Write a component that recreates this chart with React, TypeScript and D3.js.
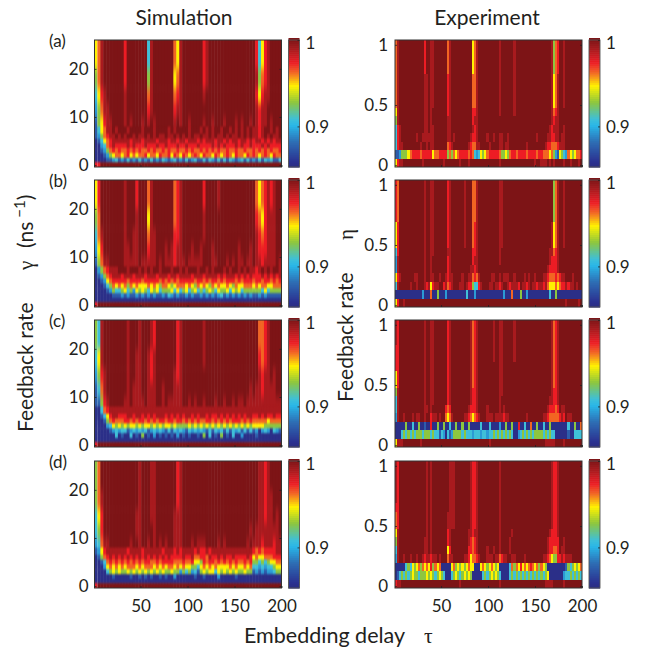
import React, { useRef, useEffect } from "react";
import * as d3 from "d3";

const levelValues = [0.855, 0.875, 0.893, 0.908, 0.927, 0.946, 0.9615, 0.973, 0.9885, 1];
const colorStops = [0.853, 0.858, 0.881, 0.9, 0.908, 0.927, 0.946, 0.9615, 0.973, 0.9885, 1];
const colorRange = ["#2b2e83", "#2b3090", "#2e6db4", "#29b6e8", "#3fc0d8", "#8dc63f", "#fff200", "#f26522", "#ed1c24", "#a81a1e", "#7d1416"];

const tauTicks = [50, 100, 150, 200];
const gammaTicks = [0, 10, 20];
const etaTicks = [0, 0.5, 1];
const barTicks = [0.9, 1];
const panelTags = ["(a)", "(b)", "(c)", "(d)"];

// row edges of the simulation grids, top to bottom, in ns^-1
const gammaEdges = [26, 20, 16, 13, 10, 8, 6.5, 5.5, 4.5, 3.5, 2.5, 1.5, 0.6, -0.4];

const simA = [
  "5689999999 7999999938 9999999658 9999999789 9999999999 9999973578 9999",
  "4689999999 7999999948 9999999568 9999999789 9999999999 9999984678 9999",
  "3578999999 8999999968 9999999678 9999999899 9999999999 9999975788 9999",
  "2468899999 8999999978 9999999788 9999999999 9999999999 9999987889 9999",
  "1457889999 8989998989 8999999898 9989999899 8999899989 8998987889 8999",
  "1356889899 9899998999 8999989899 9989998989 8998998989 8989887899 8989",
  "1246788989 8998988989 8988988989 8989889889 8988989889 8989887898 9889",
  "0135678888 8878887888 8788878878 8788878788 8788787887 8878788787 8788",
  "0023678777 7878777877 7877877787 7877787777 8787877787 8778777878 7777",
  "0012467676 6767676676 7667676676 6767667676 7676676676 6766767676 7667",
  "0001245665 6756566756 6576675765 7656765766 5765676576 6576765676 5766",
  "0000112312 1312131213 1213212312 1312311313 2131313212 3131213132 3113",
  "7799999999 9999999999 9999999999 9999999999 9999999999 9999999999 9999",
];
const simB = [
  "5799999999 8999799968 9999999678 9999999799 9989999999 9999965678 7899",
  "4699999999 8999899958 9999999678 9999999899 9999999999 9999976578 8899",
  "3689999999 8998899968 8999999778 9999999899 9999999999 9999987678 8899",
  "2579999999 8898899978 8999898788 9998998999 8999999998 9998987778 8899",
  "1468899999 8888898888 8989888788 8988888999 8899989898 8988988788 8898",
  "0246788899 9899989898 9989998998 9899989989 8999898998 9898878989 8998",
  "0124678887 8887888788 8788878878 8887888788 8878788878 7878777878 7878",
  "0012567777 7677776777 7767676767 7777677676 7767677767 6777677677 6767",
  "0001346565 6465655565 6546654566 6565465654 6565565465 5666565665 5666",
  "0000124334 5342545435 4534445353 4534534345 4354453545 3444444353 4444",
  "0000001112 1211212121 2112132121 1212112121 2123121212 1212112121 1111",
  "0000000000 0000000000 0000000000 0000000000 0000000000 0000000000 0000",
  "7999999999 9999999999 9999999999 9999999999 9999999999 9999999999 9999",
];
const simC = [
  "4389999999 9899989998 7999999978 9999999899 9999999999 9999996678 9999",
  "3589999999 9899889987 8999999978 9999999899 9999999999 9999997678 9999",
  "2478999999 9899889987 8999999878 9999999999 9999999999 9999998788 9899",
  "1368999999 9898889988 8998999888 9999999999 9999999999 9998988788 8899",
  "1147899999 8898888988 8998988888 9989899899 9899899898 8988888888 8888",
  "0036788888 8888888888 8888888888 8888888888 8888888888 8888888888 8888",
  "0013578877 7887887878 7888787878 7887878878 7787878787 8788778787 7877",
  "0001467666 7767677676 7677677677 6767676677 6767676777 6767666665 6666",
  "0000235454 5455454554 5454554544 4454545454 5454545454 5454555544 4444",
  "0000012323 3123232312 3232131323 2132323213 1323131323 1313120232 0321",
  "0000000301 0030104010 2010101020 1010010403 0104010300 2000010000 0000",
  "0000000000 0000000000 0000000000 0000000000 0000000000 0000000000 0000",
  "7999999999 9999999999 9999999999 9999999999 9999999999 9999999999 9999",
];
const simD = [
  "4699999999 9999989998 8999999978 9999999999 9999999999 9999998878 9999",
  "4689999999 9999989998 8999999978 9999999999 9999999999 9999998878 8999",
  "3579999999 9999889998 8999999888 9999999999 9999999999 9999998878 8989",
  "3479999999 9999889999 8999999888 9999999999 9999999999 9998988888 8889",
  "2368899999 9989989989 8989899888 9998988899 9989899999 9989888788 8788",
  "1257888888 8788887888 8887888787 8888787787 8888888888 8888767677 7788",
  "0146787878 7878787878 7878787777 8778667768 7787877877 7787565566 6777",
  "0013676767 6767676776 6767777666 7667554767 7676767676 6767443434 5566",
  "0002565656 5666565666 5656566565 6554435656 5655556565 5656332323 3455",
  "0000345454 4545454545 4545445442 4342314545 5354545454 4544121212 2344",
  "0000001000 0010010101 0010100200 0000100100 0020000010 0000000000 0000",
  "0000000000 0000000000 0000000000 0000000000 0000000000 0000000000 0000",
  "7999999999 9999999999 9999999999 9999999999 9999999999 9999999999 9999",
];

// experiment grids: 15 equal rows, top to bottom
const expA = [
  "6899999999 9999799889 9999968999 9999999568 9999999999 8999999899 9999999999 9999984679 9899999999",
  "6899999999 9999799889 9999968999 9999999568 9999999999 8999999899 9999999999 9999984679 9899999999",
  "6899999999 9999799889 9999968999 9999999568 9999999999 8999999899 9999999999 9999984679 9899999999",
  "6899999999 9999799889 9999968999 9999999568 9999999999 8999999899 9999999999 9999984679 9899999999",
  "6899999999 9999889889 9999978999 9999999668 9999999999 8999999899 9999999999 9999985689 9899999999",
  "6899999999 9999889889 9999978999 9999999668 9999999999 8999999899 9999999999 9999985689 9899999999",
  "6899999999 9999889889 9999978999 9999999668 9999999999 8999999899 9999999999 9999985689 9899999999",
  "6899999999 9999889889 9999978999 9999999668 9999999999 8999999899 9999999999 9999985689 9899999999",
  "5899999999 9999889899 9999978999 9999999778 9999999999 8999999899 9999999999 9999986789 9999999999",
  "4899999999 9999889899 9999988999 9999999788 9999999999 9999999999 9999999999 9999987889 9999999999",
  "3789999999 9999889889 9999988999 9999999878 9999999999 9999999999 9999999999 9999878889 9899999999",
  "3789999999 8998888889 9999988989 9999998778 9999899899 8899899999 9999999989 9998877889 8899999999",
  "3788999999 9989989889 9999967899 9999987668 8999989999 8898899999 9998999999 9987766678 8899999999",
  "1124445677 7767777756 6777746465 6777767632 3545677777 6445467767 7776777767 7666564215 4326545667",
  "5788999999 9998999999 9998999999 9899989999 9999999999 8999999999 9999999899 8889898999 9899899989",
];
const expB = [
  "7699999999 9999899889 9999978999 9998999668 9999999999 8899999999 9999999999 9999994689 9899999999",
  "7699999999 9999899889 9999978999 9998999668 9999999999 8899999999 9999999999 9999994689 9899999999",
  "7699999999 9999899889 9999978999 9998999668 9999999999 8899999999 9999999999 9999994689 9899999999",
  "7699999999 9999899889 9999978999 9998999668 9999999999 8899999999 9999999999 9999994689 9899999999",
  "7699999999 9999899889 9999978999 9998999668 9999999999 8899999999 9999999999 9999994689 9899999999",
  "5799999999 9999899889 9999978999 9998999678 9999999999 8899999999 9999999999 9999985689 9899999999",
  "5799999999 9999899889 9999978999 9998999678 9999999999 8899999999 9999999999 9999985689 9899999999",
  "5799999999 9999899889 9999978999 9998999678 9999999999 8899999999 9999999999 9999985689 9899999999",
  "3799999999 9999899889 9999988999 9999999778 9999999999 8999999999 9999999999 9999886789 9999999999",
  "2899999999 9999899899 9999978999 9999999788 9999999999 8999999999 9999999999 9999877789 9999999999",
  "2899999999 9999899899 9999978999 9999998878 9999999999 9999999999 9999999999 9998777789 9999999999",
  "5789999998 8999899889 9899878899 9989988676 8999998899 8988899899 9989899899 9887666767 8899989999",
  "3899999899 8999878578 8997867899 9889877433 7899988988 7899878887 9887898878 8786555656 7787889899",
  "0000000000 0002000600 4000200000 0000300020 0000000000 0020006000 4002000000 0000300400 0000000000",
  "5799899999 9999999999 9999999999 9999999999 9999999999 9999999999 9999999999 9999999999 9989999989",
];
const expC = [
  "8799999999 9999899889 9999978999 9999998678 9999999899 8899999899 9999999999 9999986789 9999999999",
  "8799999999 9999899889 9999978999 9999998678 9999999899 8899999899 9999999999 9999986789 9999999999",
  "8799999999 9999899889 9999978999 9999998678 9999999899 8899999899 9999999999 9999986789 9999999999",
  "7799999999 9999899889 9999978999 9999998678 9999999899 8899999899 9999999999 9999986789 9999999999",
  "7799999999 9999899889 9999978999 9999998678 9999999899 8899999899 9999999999 9999986789 9999999999",
  "7799999999 9999899889 9999978999 9999998678 9999999999 8899999999 9999999999 9999986789 9999999999",
  "5799999999 9999899889 9999978999 9999998678 9999999999 8899999999 9999999999 9999986789 9999999999",
  "5799999999 9999899889 9999978999 9999998678 9999999999 8899999999 9999999999 9999986789 9999999999",
  "4899999999 9999899889 9999978999 9999998778 9999999999 8899999999 9999999999 9999987789 9999999999",
  "3899999999 9999899889 9999978999 9999998778 9999999999 8999999999 9999999999 9999887789 9999999999",
  "3899999999 9999889899 9999767999 9999987778 9999899999 8989999999 9999999999 9998777679 8899999999",
  "2899899989 8899899788 9899656899 9998876567 8999888988 8878899999 9998999999 9887666667 8798899999",
  "0000040030 0400100700 4004003004 0040040000 0300030000 2004004007 0030060040 0300400000 0003004006",
  "0003434343 4443444343 3132031244 4434333233 3233233434 3434343002 3434343444 4343433000 0001003333",
  "5888999999 9989999999 9999999999 9999999999 9999989999 9999999999 9999999999 9988888999 9899999999",
];
const expD = [
  "8799999999 9999989899 9999998889 9999998778 9999999999 8999999999 9999999999 9999987789 9999999999",
  "8799999999 9999989899 9999998889 9999998778 9999999999 8999999999 9999999999 9999987789 9999999999",
  "8799999999 9999989899 9999998889 9999998778 9999999999 8999999999 9999999999 9999987789 9999999999",
  "8799999999 9999989899 9999998889 9999998778 9999999999 8999999999 9999999999 9999987789 9999999999",
  "8799999999 9999989899 9999998889 9999998778 9999999999 8999999999 9999999999 9999987789 9999999999",
  "7799999999 9999989899 9999998889 9999998778 9999999999 8999999999 9999999999 9999987789 9999999999",
  "6799999999 9999989899 9999988889 9999998778 9999999999 8999999999 9999999999 9999987789 9999999999",
  "6799999999 9999989899 9999988889 9999998778 9999999999 8999999999 9999999999 9999987789 9999999999",
  "5899999999 9999989899 9999978999 9999988788 9999999999 8999998999 9999999999 9999877789 9999999999",
  "4899999999 9999889899 9999978999 9999987678 9999999999 8999989999 9999999999 9998777779 9899999999",
  "3899999999 9999889899 9999957999 9999977678 9999899899 8999989999 9999999999 9998776679 8899999999",
  "2899899899 8998788788 9899968899 9998875667 8999888988 6788998899 9989999999 9887654477 8788899999",
  "0000034354 5646565746 5600000564 5454565500 0565456545 0000036465 7565676564 6540000000 0014345456",
  "0134343454 4344454543 4543000345 4345454000 0034345454 3000034343 4343434343 4345000000 0233434343",
  "7889999999 9999999999 9999999999 9899999999 9999999999 8999999999 9999999999 9988889999 9899999999",
];

const simGrids = [simA, simB, simC, simD];
const expGrids = [expA, expB, expC, expD];

const panelTops = [40, 180, 320, 461];
const panelH = 127;
const panelW = 187;
const leftX = 94.5;
const rightX = 395;
const barGap = 7;
const barW = 11;
const upperRows = 5; // rows above this are smeared harder, they change slowly
const fontFamily = "Lato, 'Open Sans', sans-serif";
const greekFont = "'Liberation Serif', serif";

const App = () => {
  const svgRef = useRef<SVGSVGElement>(null);

  useEffect(() => {
    const svg = d3.select(svgRef.current);
    svg.selectAll("*").remove();

    const color = d3.scaleLinear<string>().domain(colorStops).range(colorRange).clamp(true);
    const tauScale = d3.scaleLinear().domain([1, 200]).range([0, panelW]);
    const gammaScale = d3.scaleLinear().domain([-0.4, 26]).range([panelH, 0]);
    const etaScale = d3.scaleLinear().domain([-0.015, 1.04]).range([panelH, 0]);
    const barScale = d3.scaleLinear().domain([0.853, 1]).range([panelH, 0]);

    const defs = svg.append("defs");
    const smearFine = defs.append("filter").attr("id", "smearFine")
      .attr("color-interpolation-filters", "sRGB");
    smearFine.append("feGaussianBlur").attr("stdDeviation", "0.7 1.2");
    const smearTall = defs.append("filter").attr("id", "smearTall")
      .attr("color-interpolation-filters", "sRGB");
    smearTall.append("feGaussianBlur").attr("stdDeviation", "0.7 4");
    defs.append("clipPath").attr("id", "panelClip")
      .append("rect").attr("width", panelW).attr("height", panelH);

    const styleAxis = (g: any) => {
      g.select(".domain").remove();
      g.selectAll("line").attr("stroke", "#222").attr("stroke-width", 0.8);
      g.selectAll("text")
        .attr("font-family", fontFamily)
        .attr("font-size", 17)
        .attr("fill", "#231f20");
    };

    const drawColorbar = (g: any) => {
      const barSteps = d3.range(64);
      const stepValue = d3.scaleLinear().domain([0, 63]).range([0.853, 1]);
      g.selectAll("rect.step").data(barSteps).join("rect")
        .attr("class", "step")
        .attr("width", barW)
        .attr("y", (d: number) => barScale(stepValue(d)) - panelH / 64)
        .attr("height", panelH / 64 + 0.6)
        .attr("fill", (d: number) => color(stepValue(d)));
      g.append("rect").attr("width", barW).attr("height", panelH)
        .attr("fill", "none").attr("stroke", "#555").attr("stroke-width", 0.9);
      const axis = g.append("g").attr("transform", `translate(${barW},0)`)
        .call(d3.axisRight(barScale).tickValues(barTicks).tickSize(-2).tickPadding(6)
          .tickFormat((d: any) => (d === 1 ? "1" : d3.format(".1f")(d))));
      styleAxis(axis);
      axis.selectAll("text").attr("dy", (d: number) => (d === 1 ? "0.5em" : "0.36em"));
    };

    const drawFrame = (g: any, yScale: any, ticks: number[], showTau: boolean, fmt: any, pad: number) => {
      g.append("rect").attr("width", panelW).attr("height", panelH)
        .attr("fill", "none").attr("stroke", "#333").attr("stroke-width", 1);
      const yAxis = g.append("g").call(
        d3.axisLeft(yScale).tickValues(ticks).tickSize(-2).tickPadding(pad).tickFormat(fmt));
      styleAxis(yAxis);
      const yMirror = g.append("g").attr("transform", `translate(${panelW},0)`).call(
        d3.axisRight(yScale).tickValues(ticks).tickSize(-2).tickFormat(() => ""));
      styleAxis(yMirror);
      const xAxis = g.append("g").attr("transform", `translate(0,${panelH})`).call(
        d3.axisBottom(tauScale).tickValues(tauTicks).tickSize(-2).tickPadding(12)
          .tickFormat(showTau ? (d3.format("d") as any) : () => ""));
      styleAxis(xAxis);
    };

    // simulation column, cells are smeared because the original is shaded
    simGrids.forEach((grid, p) => {
      const g = svg.append("g").attr("transform", `translate(${leftX},${panelTops[p]})`);
      const clipped = g.append("g").attr("clip-path", "url(#panelClip)");
      const upper = clipped.append("g").attr("filter", "url(#smearTall)");
      const lower = clipped.append("g").attr("filter", "url(#smearFine)");
      grid.forEach((line, r) => {
        const row = line.replace(/\s/g, "").split("");
        const col = d3.scaleBand<number>().domain(d3.range(row.length)).range([0, panelW]);
        const y0 = r === 0 ? -20 : gammaScale(gammaEdges[r]);
        let y1 = r === grid.length - 1 ? panelH + 8 : gammaScale(gammaEdges[r + 1]);
        if (r === upperRows - 1) y1 += 12; // runs on under the lower group
        const target = r < upperRows ? upper : lower;
        target.append("g").selectAll("rect").data(row).join("rect")
          .attr("x", (_d, i) => (i === 0 ? -8 : col(i)!))
          .attr("width", (_d, i) => (i === 0 || i === row.length - 1 ? col.bandwidth() + 8 : col.bandwidth() + 0.5))
          .attr("y", y0)
          .attr("height", y1 - y0 + 0.5)
          .attr("fill", (d) => color(levelValues[+d]));
      });
      drawFrame(g, gammaScale, gammaTicks, p === 3, d3.format("d"), 6);
      drawColorbar(g.append("g").attr("transform", `translate(${panelW + barGap},0)`));
      g.append("text")
        .attr("x", 49 - leftX).attr("y", 6.5)
        .attr("font-family", fontFamily).attr("font-size", 17).attr("fill", "#231f20")
        .text(panelTags[p]);
    });

    // experiment column, plain cells
    expGrids.forEach((grid, p) => {
      const g = svg.append("g").attr("transform", `translate(${rightX},${panelTops[p]})`);
      const inner = g.append("g").attr("clip-path", "url(#panelClip)");
      const rowBand = d3.scaleBand<number>().domain(d3.range(grid.length)).range([0, panelH]);
      grid.forEach((line, r) => {
        const row = line.replace(/\s/g, "").split("");
        const col = d3.scaleBand<number>().domain(d3.range(row.length)).range([0, panelW]);
        inner.append("g").attr("shape-rendering", "crispEdges")
          .selectAll("rect").data(row).join("rect")
          .attr("x", (_d, i) => col(i)!)
          .attr("width", col.bandwidth() + 0.5)
          .attr("y", rowBand(r)!)
          .attr("height", rowBand.bandwidth() + 0.5)
          .attr("fill", (d) => color(levelValues[+d]));
      });
      drawFrame(g, etaScale, etaTicks, p === 3, (d: any) => (d === 0.5 ? "0.5" : String(d)), 7);
      drawColorbar(g.append("g").attr("transform", `translate(${panelW + barGap},0)`));
    });

    const label = (size: number) =>
      svg.append("text")
        .attr("font-family", fontFamily)
        .attr("font-size", size)
        .attr("fill", "#231f20");

    label(21).attr("x", 184).attr("y", 25).attr("text-anchor", "middle").text("Simulation");
    label(21).attr("x", 487).attr("y", 25).attr("text-anchor", "middle").text("Experiment");

    const bottom = label(21.5).attr("x", 244).attr("y", 642.5);
    bottom.append("tspan").text("Embedding delay");
    bottom.append("tspan").attr("x", 424).attr("font-family", greekFont).text("τ");

    const leftY = label(21).attr("transform", "translate(32.5,432) rotate(-90)");
    leftY.append("tspan").text("Feedback rate");
    leftY.append("tspan").attr("x", 162).attr("font-family", greekFont).text("γ");
    leftY.append("tspan").attr("x", 184).text("(ns");
    leftY.append("tspan").attr("dy", -8).attr("font-size", 15).text(" −1");
    leftY.append("tspan").attr("dy", 8).text(")");

    const rightY = label(21).attr("transform", "translate(353,402) rotate(-90)");
    rightY.append("tspan").text("Feedback rate");
    rightY.append("tspan").attr("x", 162).attr("font-family", greekFont).text("η");
  }, []);

  return (
    <svg
      ref={svgRef}
      width={648}
      height={647}
      style={{ position: "absolute", left: 0, top: 0, display: "block", background: "#fff" }}
    />
  );
};

export default App;
